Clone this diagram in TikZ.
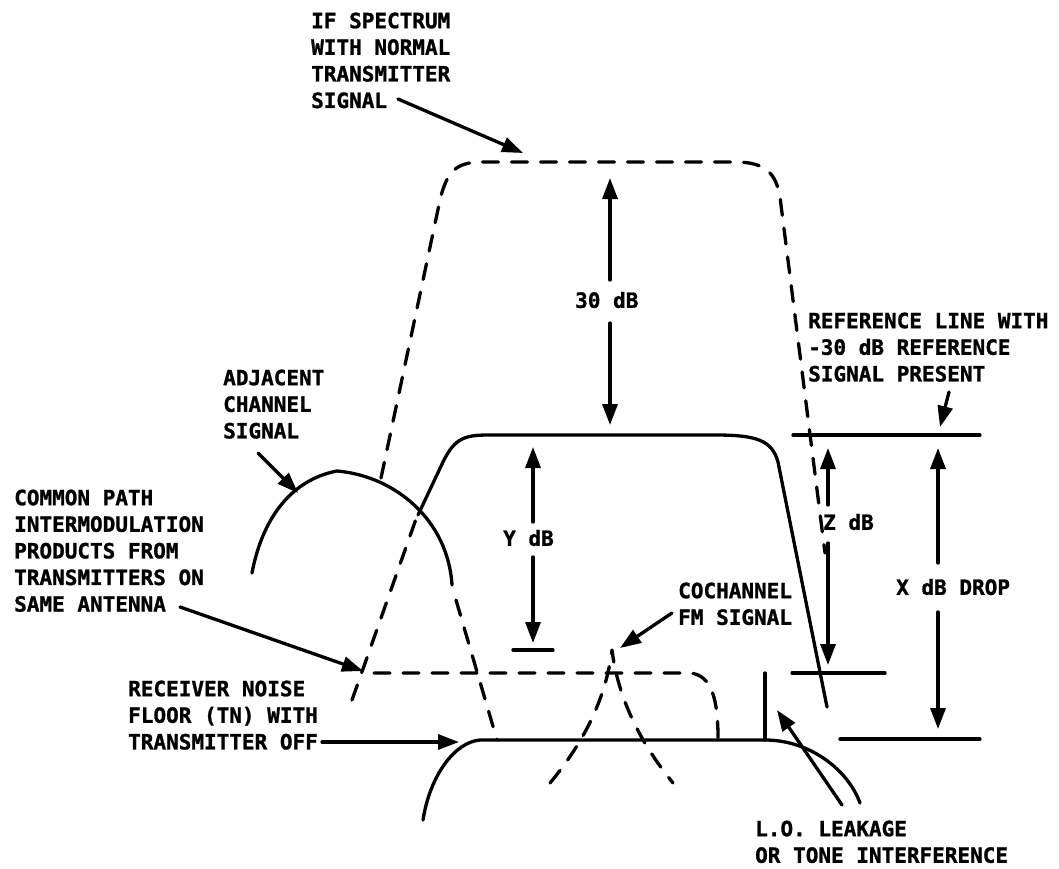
\documentclass[tikz,border=0pt]{standalone}
\usepackage{fontspec}
\newfontfamily\lblfont{DejaVu Sans Mono Bold}[FakeBold=1.2]
\usetikzlibrary{arrows.meta}
\begin{document}
\begin{tikzpicture}[x=1pt,y=-1pt,
  curve/.style={line width=3.3pt, line cap=round, line join=round},
  dashcurve/.style={curve, dash pattern=on 16pt off 13pt},
  tip/.style={curve, -{Triangle[length=21pt,width=15pt]}},
  lbl/.style={font=\lblfont\fontsize{21}{26.6}\selectfont, inner sep=0pt, align=left, anchor=north west},
  dimlbl/.style={font=\lblfont\fontsize{21}{26.6}\selectfont, inner sep=0pt, anchor=west}]
\useasboundingbox (0,0) rectangle (1059,869);

% ---------- labels ----------
\node[lbl] (ifl) at (311,12.4) {IF SPECTRUM\\WITH NORMAL\\TRANSMITTER\\SIGNAL};
\node[lbl] (refl) at (808,312.4) {REFERENCE LINE WITH\\-30 dB REFERENCE\\SIGNAL PRESENT};
\node[lbl] (adjl) at (223,369.4) {ADJACENT\\CHANNEL\\SIGNAL};
\node[lbl] (coml) at (14,489.4) {COMMON PATH\\INTERMODULATION\\PRODUCTS FROM\\TRANSMITTERS ON\\SAME ANTENNA};
\node[lbl] (rcvl) at (128,680.4) {RECEIVER NOISE\\FLOOR (TN) WITH\\TRANSMITTER OFF};
\node[lbl] (cocl) at (678,582.4) {COCHANNEL\\FM SIGNAL};
\node[lbl] (lol) at (755,820.4) {L.O. LEAKAGE\\OR TONE INTERFERENCE};

\node[dimlbl] (t30) at (575,300) {30 dB};
\node[dimlbl] (ty) at (503,538) {Y dB};
\node[dimlbl] (tz) at (823,522) {Z dB};
\node[dimlbl] (tx) at (896,587) {X dB DROP};

% ---------- IF spectrum (dashed) ----------
\draw[dashcurve] (381,478) -- (440,200) .. controls (448,166) and (460,162) .. (486,162)
  -- (735,162) .. controls (768,162) and (778,175) .. (781,205) -- (825,553);

% ---------- reference signal (solid trapezoid) ----------
\draw[dashcurve] (352,700) -- (416,519);
\draw[curve] (418,515) -- (443,462) .. controls (455,437) and (466,435) .. (490,435)
  -- (715,435) .. controls (756,435) and (772,440) .. (778,462) -- (827,707);

% ---------- adjacent channel ----------
\draw[curve] (252,573) .. controls (262,520) and (290,480) .. (337,471)
  .. controls (395,476) and (448,520) .. (452,585);
\draw[dashcurve] (456,600) -- (497,740);

% ---------- intermodulation (dashed) ----------
\draw[dashcurve] (374,673) -- (690,673) .. controls (712,675) and (718,700) .. (718,738);

% ---------- cochannel FM signal (dashed) ----------
\draw[dashcurve] (550,783) .. controls (590,735) and (607,690) .. (612,650)
  .. controls (617,690) and (634,735) .. (673,783);

% ---------- receiver noise floor ----------
\draw[curve] (423,820) .. controls (430,775) and (455,742) .. (480,740)
  -- (765,740) .. controls (810,740) and (848,770) .. (860,803);

% ---------- L.O. leakage spike ----------
\draw[curve] (765,673) -- (765,740);

% ---------- reference / level lines ----------
\draw[curve] (793,435) -- (980,435);
\draw[curve] (840,739) -- (980,739);
\draw[curve] (792,673) -- (885,673);
\draw[curve] (513,650) -- (553,650);

% ---------- dimension arrows ----------
\coordinate (a30t) at (610,178); \coordinate (a30u) at (610,280);
\coordinate (a30l) at (610,323); \coordinate (a30b) at (610,425);
\draw[tip] (a30u) -- (a30t);
\draw[tip] (a30l) -- (a30b);

\coordinate (ayt) at (533,447); \coordinate (ayu) at (533,522);
\coordinate (ayl) at (533,557); \coordinate (ayb) at (533,643);
\draw[tip] (ayu) -- (ayt);
\draw[tip] (ayl) -- (ayb);

\coordinate (azt) at (828,448); \coordinate (azu) at (828,505);
\coordinate (azl) at (828,543); \coordinate (azb) at (828,665);
\draw[tip] (azu) -- (azt);
\draw[tip] (azl) -- (azb);

\coordinate (axt) at (938,448); \coordinate (axu) at (938,563);
\coordinate (axl) at (938,612); \coordinate (axb) at (938,729);
\draw[tip] (axu) -- (axt);
\draw[tip] (axl) -- (axb);

% ---------- label pointers ----------
\coordinate (ifs) at (398,99);   \coordinate (ife) at (523,153);
\coordinate (refs) at (949,392); \coordinate (refe) at (940,427);
\coordinate (adjs) at (258,453); \coordinate (adje) at (298,493);
\coordinate (coms) at (180,607); \coordinate (come) at (363,671);
\coordinate (rcvs) at (322,742); \coordinate (rcve) at (459,742);
\coordinate (cocs) at (672,613); \coordinate (coce) at (620,648);
\coordinate (los) at (842,805);  \coordinate (loe) at (777,710);
\draw[tip] (ifs) -- (ife);
\draw[tip] (refs) -- (refe);
\draw[tip] (adjs) -- (adje);
\draw[tip] (coms) -- (come);
\draw[tip] (rcvs) -- (rcve);
\draw[tip] (cocs) -- (coce);
\draw[tip] (los) -- (loe);
\end{tikzpicture}
\end{document}
